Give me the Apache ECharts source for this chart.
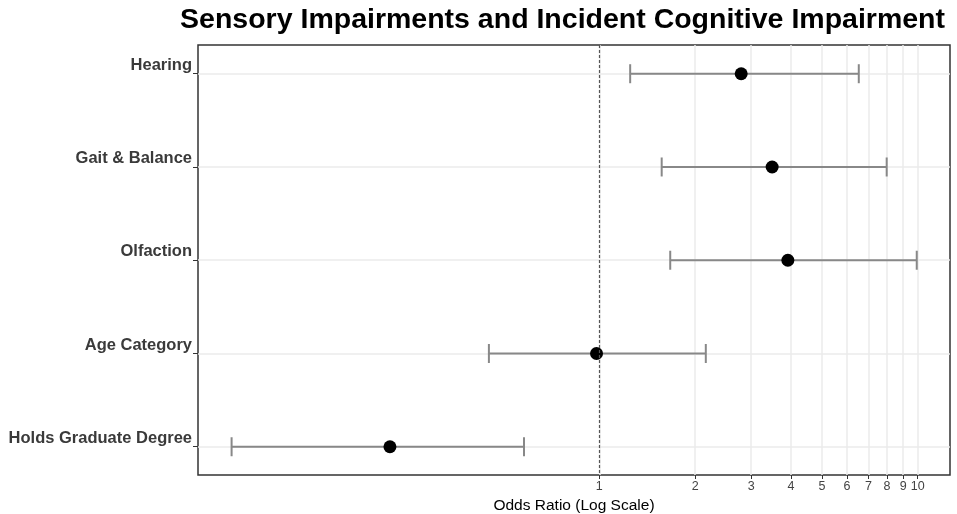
<!DOCTYPE html>
<html>
<head>
<meta charset="utf-8">
<script src="https://cdn.jsdelivr.net/npm/echarts@6/dist/echarts.min.js"></script>
<style>
  html, body { margin: 0; padding: 0; background: #fff; }
  #chart { width: 957px; height: 514px; }
</style>
</head>
<body>
<div id="chart"></div>
<script>
// rows, top to bottom
var factors = ['Hearing', 'Gait & Balance', 'Olfaction', 'Age Category', 'Holds Graduate Degree'];
var oddsRatio = [2.79, 3.49, 3.91, 0.98, 0.22];
var ciLow = [1.25, 1.57, 1.67, 0.45, 0.070];
var ciHigh = [6.53, 7.99, 9.93, 2.16, 0.58];
var xTicks = [1, 2, 3, 4, 5, 6, 7, 8, 9, 10];
var rowPos = [1, 2, 3, 4, 5];

var points = [];
var bars = [];
for (var i = 0; i < factors.length; i++) {
    points.push([oddsRatio[i], rowPos[i]]);
    bars.push([ciLow[i], ciHigh[i], rowPos[i]]);
}

function renderBar(params, api) {
    var lo = api.coord([api.value(0), api.value(2)]);
    var hi = api.coord([api.value(1), api.value(2)]);
    var cap = 9.5;
    var style = { stroke: '#888888', lineWidth: 2 };
    return {
        type: 'group',
        children: [
            { type: 'line', shape: { x1: lo[0], y1: lo[1], x2: hi[0], y2: hi[1] }, style: style },
            { type: 'line', shape: { x1: lo[0], y1: lo[1] - cap, x2: lo[0], y2: lo[1] + cap }, style: style },
            { type: 'line', shape: { x1: hi[0], y1: hi[1] - cap, x2: hi[0], y2: hi[1] + cap }, style: style }
        ]
    };
}

var option = {
    animation: false,
    backgroundColor: '#ffffff',
    title: {
        text: 'Sensory Impairments and Incident Cognitive Impairment',
        right: 7,
        top: 1,
        textStyle: {
            fontFamily: 'Liberation Sans',
            fontWeight: 'bold',
            fontSize: 28.5,
            color: '#000'
        }
    },
    grid: {
        left: 198,
        right: 7,
        top: 45,
        bottom: 39,
        show: true,
        borderColor: '#333',
        borderWidth: 1.5,
        containLabel: false,
        outerBoundsMode: 'none'
    },
    xAxis: {
        type: 'log',
        logBase: 10,
        min: 0.0549,
        max: 12.63,
        name: 'Odds Ratio (Log Scale)',
        nameLocation: 'middle',
        nameGap: 15,
        nameTextStyle: { fontFamily: 'Liberation Sans', fontSize: 15.5, color: '#000' },
        axisLine: { show: false },
        axisTick: { show: true, customValues: xTicks, length: 4, lineStyle: { color: '#333' } },
        axisLabel: {
            customValues: xTicks,
            margin: 5,
            fontFamily: 'Liberation Sans',
            fontSize: 12.5,
            color: '#444'
        },
        splitLine: { show: true, lineStyle: { color: '#ebebeb', width: 1.5 } },
        minorSplitLine: { show: false }
    },
    yAxis: {
        type: 'value',
        inverse: true,
        min: 0.692,
        max: 5.303,
        axisLine: { show: false },
        axisTick: { show: true, customValues: rowPos, length: 5, lineStyle: { color: '#333' } },
        axisLabel: {
            customValues: rowPos,
            margin: 6,
            fontFamily: 'Liberation Sans',
            fontWeight: 'bold',
            fontSize: 16.5,
            color: '#3a3a3a',
            verticalAlign: 'bottom',
            formatter: function (v) { return factors[Math.round(v) - 1] || ''; }
        },
        splitLine: { show: true, lineStyle: { color: '#ebebeb', width: 1.5 } }
    },
    series: [
        {
            type: 'custom',
            renderItem: renderBar,
            data: bars,
            encode: { x: [0, 1], y: 2 },
            z: 2
        },
        {
            type: 'scatter',
            data: points,
            symbol: 'circle',
            symbolSize: 13,
            itemStyle: { color: '#000', opacity: 1 },
            z: 3,
            markLine: {
                silent: true,
                symbol: 'none',
                label: { show: false },
                lineStyle: { color: '#555', type: [3, 2], width: 1.2 },
                data: [{ xAxis: 1 }]
            }
        }
    ]
};

var chart = echarts.init(document.getElementById('chart'));
chart.setOption(option);
</script>
</body>
</html>
